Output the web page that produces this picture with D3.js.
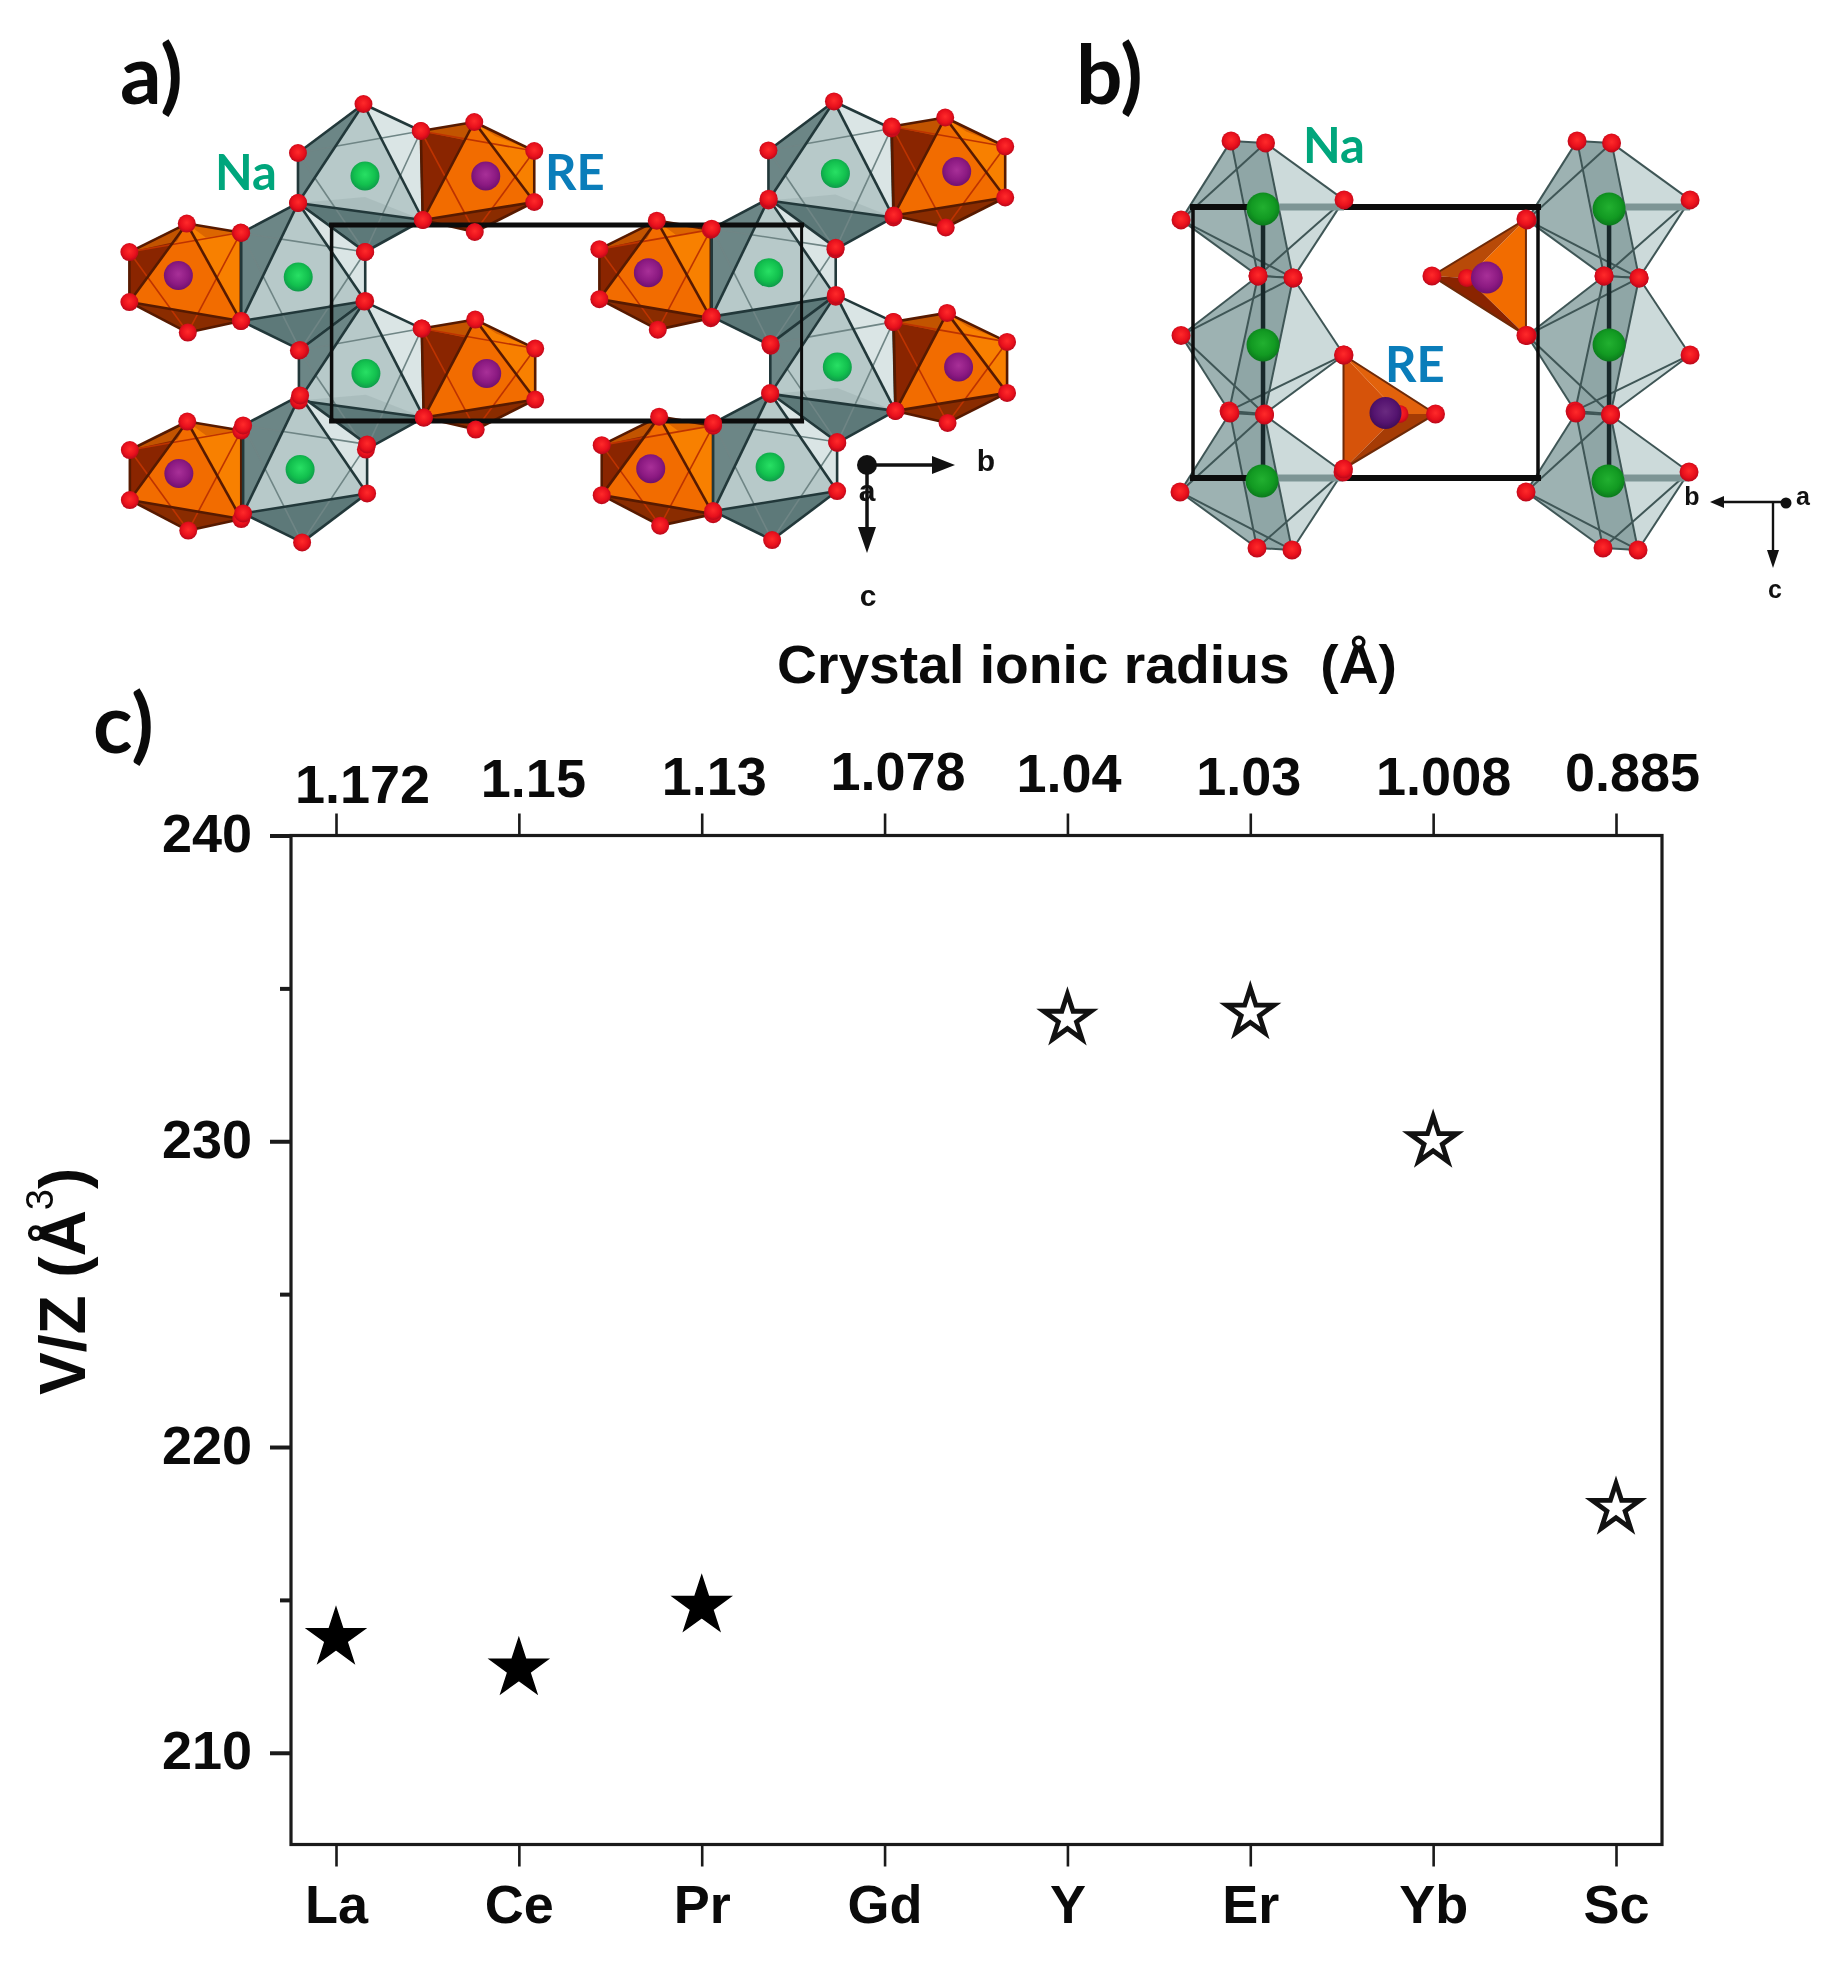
<!DOCTYPE html>
<html>
<head>
<meta charset="utf-8">
<title>V/Z against crystal ionic radius</title>
<script src="https://cdn.jsdelivr.net/npm/d3@7"></script>
<style>
  html, body { margin: 0; background: #fff; }
  svg { display: block; filter: blur(0.6px); }
</style>
</head>
<body>
<div id="chart"></div>
<script>
// panel c values
const elements = ['La', 'Ce', 'Pr', 'Gd', 'Y', 'Er', 'Yb', 'Sc'];
const radii = ['1.172', '1.15', '1.13', '1.078', '1.04', '1.03', '1.008', '0.885'];
const volumes = [213.75, 212.75, 214.8, null, 234.0, 234.2, 230.0, 218.0];
const filled = [true, true, true, false, false, false, false, false];
const majorTicks = [210, 220, 230, 240];
const minorTicks = [215, 225, 235];

// the top labels are hand placed in the original, off their ticks
const radiusLabelDx = [26, 14, 12, 13, 1, -2, 10, 16];
const radiusLabelDy = [0, -6, -8, -13, -11, -8, -8, -12];

// panels a and b: sites as fractional cell coordinates [b, c, shape]
const sitesA = [
  [0.071, -0.25, 'naDown'], [0.328, -0.25, 'reRight'],
  [-0.326, 0.258, 'reLeft'], [-0.071, 0.265, 'naUp'],
  [0.073, 0.758, 'naDown'], [0.33, 0.758, 'reRight'],
  [-0.325, 1.268, 'reLeft'], [-0.067, 1.247, 'naUp'],
  [1.072, -0.263, 'naDown'], [1.33, -0.273, 'reRight'],
  [0.674, 0.243, 'reLeft'], [0.93, 0.243, 'naUp'],
  [1.076, 0.724, 'naDown'], [1.334, 0.724, 'reRight'],
  [0.679, 1.243, 'reLeft'], [0.933, 1.235, 'naUp'],
];
const sitesBNa = [
  [0.203, 0.007, 'first'], [0.203, 0.509, 'second'], [0.2, 1.011, 'first'],
  [1.206, 0.007, 'first'], [1.206, 0.509, 'second'], [1.203, 1.011, 'first'],
];

// polyhedra outlines, px round the central atom: T UL LL B LR UR
const octaShapes = {
  naDown: [[-1.5, -72], [-67, -23], [-67, 27], [0, 76], [58, 44], [56, -45]],
  naUp: [[0, -74], [-57, -44], [-57, 44], [2, 73], [67, 24], [67, -25]],
  reRight: [[-11.5, -54], [-65, -45], [-63, 44], [-11, 56], [48.5, 26], [48.5, -25]],
  reLeft: [[8.4, -52], [-49, -23.5], [-49, 26.5], [9.4, 57], [62.4, 45.5], [62.4, -43]],
};
const octaFaces = [[0, 1, 2], [0, 2, 4], [0, 5, 4], [2, 3, 4]];
const octaEdges = [[0, 1], [1, 2], [2, 3], [3, 4], [4, 5], [5, 0], [0, 2], [0, 4], [2, 4]];
const octaBack = [[1, 5], [5, 3], [3, 1]];
const naColors = ['#6c8686', '#b7c9c9', '#dae5e5', '#5f7b7b'];
const reColors = ['#8a2500', '#f26c00', '#f88000', '#8a2c00'];

// panel b sodium: U1 U2 R L D1 D2
const sideShapes = {
  first: [[-32, -68], [2.5, -66], [81, -9], [-82, 11], [-5, 67], [30, 69]],
  second: [[-5, -69], [30, -67], [81, 10], [-82, -9.5], [-34, 66], [1.5, 69]],
};
const sideFaces = [[0, 1, 2, 5, 4, 3], [0, 3, 4], [1, 5, 4, 0], [1, 2, 5]];
const sideFaceColors = ['#a9bcbc', '#9db2b2', '#8fa6a6', '#ccdada'];
const sideEdges = [[0, 1], [0, 3], [1, 3], [3, 4], [3, 5], [4, 5], [5, 2], [2, 1], [2, 4], [0, 4], [1, 5]];

// panel b rare earth: corner, corner, apex, inner oxygen, round the atom
const wedges = [
  { at: [0.558, 0.76], verts: [[-42, -58], [-42, 56], [50, 1], [14, 1]], colors: ['#d6530a', '#e2620c', '#a63c05'], atom: 'reDark' },
  { at: [0.852, 0.26], verts: [[39, -58.5], [39, 58], [-55, -1.5], [-20, 0.5]], colors: ['#f26c00', '#b84a08', '#8a2400'], atom: 'reAtom' },
];

const svg = d3.select('#chart').append('svg').attr('width', 1846).attr('height', 1973);
const defs = svg.append('defs');

const ball = (id, light, mid, dark) => {
  const g = defs.append('radialGradient').attr('id', id).attr('cx', '50%').attr('cy', '45%').attr('r', '55%');
  g.append('stop').attr('offset', '0%').attr('stop-color', light);
  g.append('stop').attr('offset', '65%').attr('stop-color', mid);
  g.append('stop').attr('offset', '100%').attr('stop-color', dark);
};
ball('oxygen', '#ff2a2a', '#e8101c', '#b8081a');
ball('naAtom', '#28e064', '#12c04e', '#0f9a4a');
ball('naDark', '#22b030', '#129a22', '#0b7a1c');
ball('reAtom', '#a83098', '#8c1a82', '#701070');
ball('reDark', '#6a2a80', '#551470', '#400c58');

const polyLine = d3.line();

// ---------- panel a ----------
const a = {
  b: d3.scaleLinear().domain([0, 1]).range([331.6, 801.6]),
  c: d3.scaleLinear().domain([0, 1]).range([225, 421]),
};
const panelA = svg.append('g');
const oxygenA = [];
const atomsA = [];

sitesA.forEach(([fb, fc, shape]) => {
  const cx = a.b(fb);
  const cy = a.c(fc);
  const isNa = shape.startsWith('na');
  const pts = octaShapes[shape].map(([dx, dy]) => [cx + dx, cy + dy]);
  const g = panelA.append('g');
  const colors = isNa ? naColors : reColors;

  g.selectAll('path.face')
    .data(octaFaces)
    .join('path')
    .attr('class', 'face')
    .attr('d', (f) => polyLine(f.map((i) => pts[i])) + 'Z')
    .attr('fill', (f, i) => colors[i]);

  if (isNa) {
    g.append('path')
      .attr('d', polyLine([pts[2], pts[3], pts[4], [cx, cy + (pts[2][1] - cy) * 0.78]]) + 'Z')
      .attr('fill', '#4f6c6c')
      .attr('opacity', 0.12);
  } else {
    // the narrow brown facets along the top of the rare earth polyhedron
    g.append('path')
      .attr('d', polyLine([pts[0], pts[1], [pts[0][0] - 10, pts[0][1] + 18]]) + 'Z')
      .attr('fill', '#c25400');
    g.append('path')
      .attr('d', polyLine([pts[0], pts[5], [pts[0][0] + (pts[5][0] - pts[0][0]) * 0.35, pts[0][1] + 14]]) + 'Z')
      .attr('fill', '#dc6600');
  }

  g.selectAll('line.back')
    .data(octaBack)
    .join('line')
    .attr('class', 'back')
    .attr('x1', (e) => pts[e[0]][0]).attr('y1', (e) => pts[e[0]][1])
    .attr('x2', (e) => pts[e[1]][0]).attr('y2', (e) => pts[e[1]][1])
    .attr('stroke', isNa ? '#6f8585' : '#bd3300')
    .attr('stroke-width', 1.6);

  g.selectAll('line.edge')
    .data(octaEdges)
    .join('line')
    .attr('class', 'edge')
    .attr('x1', (e) => pts[e[0]][0]).attr('y1', (e) => pts[e[0]][1])
    .attr('x2', (e) => pts[e[1]][0]).attr('y2', (e) => pts[e[1]][1])
    .attr('stroke', isNa ? '#22383a' : '#571a00')
    .attr('stroke-width', 2.6);

  oxygenA.push(...pts);
  atomsA.push({ cx, cy, isNa });
});

const drawCell = (g, x, y, widths) => {
  const [x0, x1] = x.range();
  const [y0, y1] = y.range();
  [[x0, y0, x1, y0], [x1, y0, x1, y1], [x1, y1, x0, y1], [x0, y1, x0, y0]].forEach((s, i) => {
    g.append('line')
      .attr('x1', s[0]).attr('y1', s[1]).attr('x2', s[2]).attr('y2', s[3])
      .attr('stroke', '#0c0c0c')
      .attr('stroke-width', widths[i])
      .attr('stroke-linecap', 'square');
  });
};
drawCell(panelA, a.b, a.c, [5, 3, 5, 3.5]);

panelA.selectAll('circle.ox')
  .data(oxygenA)
  .join('circle')
  .attr('class', 'ox')
  .attr('cx', (d) => d[0]).attr('cy', (d) => d[1]).attr('r', 9)
  .attr('fill', 'url(#oxygen)');

panelA.selectAll('circle.atom')
  .data(atomsA)
  .join('circle')
  .attr('class', 'atom')
  .attr('cx', (d) => d.cx).attr('cy', (d) => d.cy).attr('r', 14.5)
  .attr('fill', (d) => (d.isNa ? 'url(#naAtom)' : 'url(#reAtom)'));

// ---------- panel b ----------
const b = {
  b: d3.scaleLinear().domain([0, 1]).range([1193, 1538]),
  c: d3.scaleLinear().domain([0, 1]).range([207, 478]),
};
const panelB = svg.append('g');
const oxygenB = [];

sitesBNa.forEach(([fb, fc, shape]) => {
  const cx = b.b(fb);
  const cy = b.c(fc);
  const pts = sideShapes[shape].map(([dx, dy]) => [cx + dx, cy + dy]);
  const g = panelB.append('g');

  g.selectAll('path')
    .data(sideFaces)
    .join('path')
    .attr('d', (f) => polyLine(f.map((i) => pts[i])) + 'Z')
    .attr('fill', (f, i) => sideFaceColors[i]);

  g.selectAll('line')
    .data(sideEdges)
    .join('line')
    .attr('x1', (e) => pts[e[0]][0]).attr('y1', (e) => pts[e[0]][1])
    .attr('x2', (e) => pts[e[1]][0]).attr('y2', (e) => pts[e[1]][1])
    .attr('stroke', '#3f5656')
    .attr('stroke-width', 2);

  oxygenB.push(...pts);
});

wedges.forEach((w) => {
  const cx = b.b(w.at[0]);
  const cy = b.c(w.at[1]);
  const [p, q, s, inner] = w.verts.map(([dx, dy]) => [cx + dx, cy + dy]);
  const g = panelB.append('g');
  g.selectAll('path')
    .data([[p, q, inner], [p, s, inner], [q, s, inner]])
    .join('path')
    .attr('d', (f) => polyLine(f) + 'Z')
    .attr('fill', (f, i) => w.colors[i]);
  g.append('path')
    .attr('d', polyLine([p, q, s]) + 'Z')
    .attr('fill', 'none')
    .attr('stroke', '#6e2a08')
    .attr('stroke-width', 2);
  oxygenB.push(p, q, s);
  w.inner = inner;
  w.cx = cx;
  w.cy = cy;
});

drawCell(panelB, b.b, b.c, [6, 3.5, 6, 3.5]);

// the cell edge runs behind the sodium polyhedra on the right hand half
sitesBNa.filter((d) => d[2] === 'first').forEach(([fb, fc, shape]) => {
  const cx = b.b(fb);
  const r = sideShapes[shape][2];
  panelB.append('line')
    .attr('x1', cx).attr('y1', b.c(Math.round(fc)))
    .attr('x2', cx + r[0]).attr('y2', b.c(Math.round(fc)))
    .attr('stroke', '#7d9595')
    .attr('stroke-width', 7);
});

// vertical bond line through the sodium column
[0.203, 1.206].forEach((fb) => {
  panelB.append('line')
    .attr('x1', b.b(fb)).attr('y1', b.c(0))
    .attr('x2', b.b(fb)).attr('y2', b.c(1))
    .attr('stroke', '#18282a')
    .attr('stroke-width', 4.5);
});

panelB.selectAll('circle.ox')
  .data(oxygenB)
  .join('circle')
  .attr('class', 'ox')
  .attr('cx', (d) => d[0]).attr('cy', (d) => d[1]).attr('r', 9.5)
  .attr('fill', 'url(#oxygen)');

wedges.forEach((w) => {
  panelB.append('circle').attr('cx', w.inner[0]).attr('cy', w.inner[1]).attr('r', 9).attr('fill', 'url(#oxygen)');
  panelB.append('circle').attr('cx', w.cx).attr('cy', w.cy).attr('r', 16).attr('fill', `url(#${w.atom})`);
});

panelB.selectAll('circle.atom')
  .data(sitesBNa)
  .join('circle')
  .attr('class', 'atom')
  .attr('cx', (d) => b.b(d[0])).attr('cy', (d) => b.c(d[1])).attr('r', 16.5)
  .attr('fill', 'url(#naDark)');

// ---------- crystal axes ----------
const arrowHead = (g, x, y, dir, len, half) => {
  const tip = dir === 'right' ? [[x, y - half], [x, y + half], [x + len, y]]
    : dir === 'left' ? [[x, y - half], [x, y + half], [x - len, y]]
      : [[x - half, y], [x + half, y], [x, y + len]];
  g.append('path').attr('d', polyLine(tip) + 'Z').attr('fill', '#111');
};
const triad = svg.append('g');
const axisLine = (x1, y1, x2, y2, w) => triad.append('line')
  .attr('x1', x1).attr('y1', y1).attr('x2', x2).attr('y2', y2)
  .attr('stroke', '#111').attr('stroke-width', w);

axisLine(867, 465, 935, 465, 3.5);
axisLine(867, 465, 867, 530, 3.5);
arrowHead(triad, 932, 465, 'right', 23, 9);
arrowHead(triad, 867, 527, 'down', 26, 9);
triad.append('circle').attr('cx', 867).attr('cy', 465).attr('r', 10).attr('fill', '#111');

axisLine(1786, 502, 1722, 502, 2.4);
axisLine(1773, 502, 1773, 552, 2.4);
arrowHead(triad, 1724, 502, 'left', 14, 6);
arrowHead(triad, 1773, 550, 'down', 18, 6);
triad.append('circle').attr('cx', 1786).attr('cy', 503).attr('r', 5.5).attr('fill', '#111');

const smallLabels = [
  ['b', 986, 471, 30], ['a', 867, 501, 30], ['c', 868, 606, 30],
  ['b', 1692, 505, 25], ['a', 1803, 505, 25], ['c', 1775, 598, 25],
];
triad.selectAll('text')
  .data(smallLabels)
  .join('text')
  .attr('x', (d) => d[1]).attr('y', (d) => d[2])
  .attr('text-anchor', 'middle')
  .attr('font-family', 'Liberation Sans, Arial, sans-serif')
  .attr('font-weight', 700)
  .attr('font-size', (d) => d[3])
  .attr('fill', '#111')
  .text((d) => d[0]);

// ---------- labels over the crystals ----------
const panelLabels = [['a)', 120, 104], ['b)', 1076, 104], ['c)', 93, 753]];
svg.append('g').selectAll('text')
  .data(panelLabels)
  .join('text')
  .attr('x', (d) => d[1]).attr('y', (d) => d[2])
  .attr('font-family', 'Lato, sans-serif')
  .attr('font-weight', 700)
  .attr('font-size', 82)
  .attr('fill', '#0a0a0a')
  .text((d) => d[0]);

const atomLabels = [
  ['Na', 215, 190, '#00a67c'], ['RE', 545, 190, '#0a7dba'],
  ['Na', 1303, 163, '#00a67c'], ['RE', 1385, 382, '#0a7dba'],
];
svg.append('g').selectAll('text')
  .data(atomLabels)
  .join('text')
  .attr('x', (d) => d[1]).attr('y', (d) => d[2])
  .attr('font-family', 'Lato, sans-serif')
  .attr('font-weight', 700)
  .attr('font-size', 49)
  .attr('fill', (d) => d[3])
  .text((d) => d[0]);

// ---------- panel c ----------
const size = { width: 1846, height: 1973 };
const margin = { top: 835.5, right: size.width - 1662, bottom: size.height - 1844.5, left: 291 };
const sans = 'Liberation Sans, Arial, sans-serif';

const x = d3.scalePoint().domain(elements).range([336, 1616]);
const y = d3.scaleLinear().domain([207, 240]).range([size.height - margin.bottom, margin.top]);

const plot = svg.append('g');

plot.append('rect')
  .attr('x', margin.left)
  .attr('y', margin.top)
  .attr('width', size.width - margin.left - margin.right)
  .attr('height', size.height - margin.top - margin.bottom)
  .attr('fill', 'none')
  .attr('stroke', '#1a1a1a')
  .attr('stroke-width', 3.2);

const bottomAxis = plot.append('g')
  .attr('transform', `translate(0, ${size.height - margin.bottom})`)
  .call(d3.axisBottom(x).tickSize(22).tickPadding(0));
bottomAxis.select('.domain').remove();
bottomAxis.selectAll('line').attr('stroke', '#1a1a1a').attr('stroke-width', 2.6);
bottomAxis.selectAll('text')
  .attr('font-family', sans).attr('font-weight', 700).attr('font-size', 54)
  .attr('fill', '#0a0a0a').attr('y', 78).attr('dy', 0);

const topAxis = plot.append('g')
  .attr('transform', `translate(0, ${margin.top})`)
  .call(d3.axisTop(x).tickSize(22).tickPadding(0).tickFormat((d, i) => radii[i]));
topAxis.select('.domain').remove();
topAxis.selectAll('line').attr('stroke', '#1a1a1a').attr('stroke-width', 2.6);
topAxis.selectAll('text')
  .attr('font-family', sans).attr('font-weight', 700).attr('font-size', 54)
  .attr('fill', '#0a0a0a')
  .attr('x', (d, i) => radiusLabelDx[i])
  .attr('y', (d, i) => -32.5 + radiusLabelDy[i])
  .attr('dy', 0);

const leftAxis = plot.append('g')
  .attr('transform', `translate(${margin.left}, 0)`)
  .call(d3.axisLeft(y).tickValues(majorTicks).tickSize(21).tickPadding(0).tickFormat(d3.format('d')));
leftAxis.select('.domain').remove();
leftAxis.selectAll('line').attr('stroke', '#1a1a1a').attr('stroke-width', 4);
leftAxis.selectAll('text')
  .attr('font-family', sans).attr('font-weight', 700).attr('font-size', 54)
  .attr('fill', '#0a0a0a').attr('x', -39).attr('dy', 16);

const minorAxis = plot.append('g')
  .attr('transform', `translate(${margin.left}, 0)`)
  .call(d3.axisLeft(y).tickValues(minorTicks).tickSize(11).tickFormat(''));
minorAxis.select('.domain').remove();
minorAxis.selectAll('line').attr('stroke', '#1a1a1a').attr('stroke-width', 4);

const points = elements
  .map((el, i) => ({ el, value: volumes[i], solid: filled[i] }))
  .filter((d) => d.value !== null);

plot.selectAll('path.star')
  .data(points)
  .join('path')
  .attr('class', 'star')
  .attr('transform', (d) => `translate(${x(d.el)}, ${y(d.value)})`)
  .attr('d', (d) => d3.symbol(d3.symbolStar, d.solid ? 1040 : 700)())
  .attr('fill', (d) => (d.solid ? '#000' : '#fff'))
  .attr('stroke', (d) => (d.solid ? '#000' : '#111'))
  .attr('stroke-width', (d) => (d.solid ? 1.5 : 4.8))
  .attr('stroke-linejoin', 'miter')
  .attr('stroke-miterlimit', 10);

plot.append('text')
  .attr('x', 777).attr('y', 683)
  .attr('font-family', sans).attr('font-weight', 700).attr('font-size', 53)
  .attr('textLength', 620).attr('lengthAdjust', 'spacingAndGlyphs')
  .attr('fill', '#0a0a0a')
  .style('white-space', 'pre')
  .text('Crystal ionic radius  (Å)');

const yLabel = plot.append('text')
  .attr('transform', 'translate(85, 1395) rotate(-90)')
  .attr('font-family', sans).attr('font-weight', 700).attr('font-size', 64)
  .attr('fill', '#0a0a0a')
  .style('white-space', 'pre');
yLabel.append('tspan').text('V/Z (Å');
yLabel.append('tspan').attr('dy', -32).attr('font-size', 38).attr('font-weight', 400).text('3');
yLabel.append('tspan').attr('dy', 32).text(')');
</script>
</body>
</html>
